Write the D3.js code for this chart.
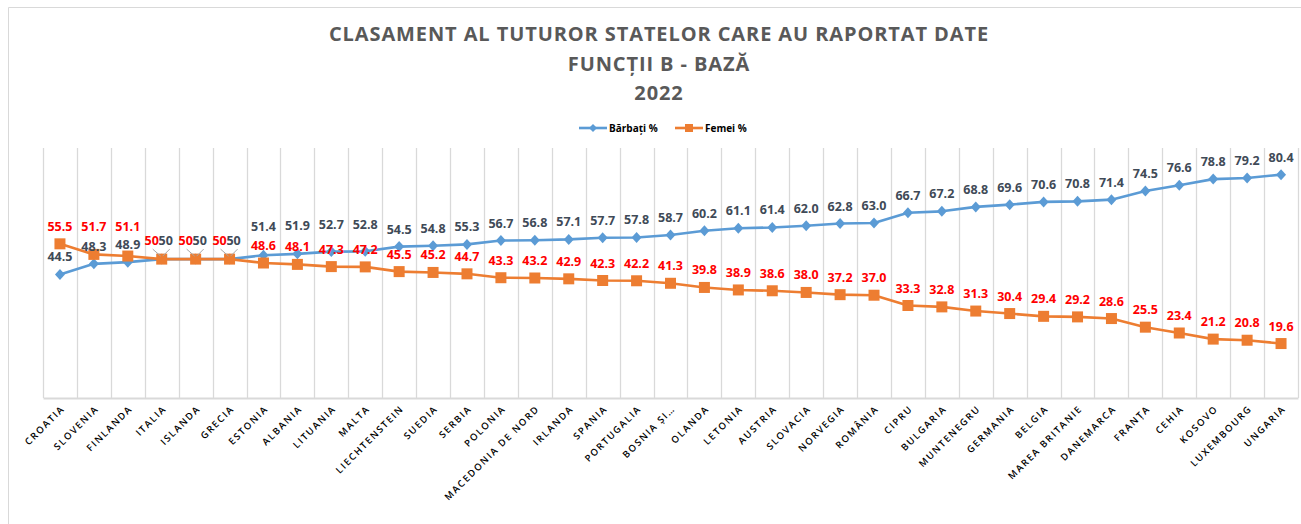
<!DOCTYPE html>
<html>
<head>
<meta charset="utf-8">
<script src="https://cdn.jsdelivr.net/npm/d3@7"></script>
<style>
    body { margin: 0; background: #fff; }
    svg { display: block; font-family: "Open Sans", "DejaVu Sans", sans-serif; }
</style>
</head>
<body>
<svg id="chart" width="1301" height="524"></svg>
<script>
// Chart data
const countries = ["CROATIA", "SLOVENIA", "FINLANDA", "ITALIA", "ISLANDA", "GRECIA", "ESTONIA",
    "ALBANIA", "LITUANIA", "MALTA", "LIECHTENSTEIN", "SUEDIA", "SERBIA", "POLONIA",
    "MACEDONIA DE NORD", "IRLANDA", "SPANIA", "PORTUGALIA", "BOSNIA ȘI…", "OLANDA", "LETONIA",
    "AUSTRIA", "SLOVACIA", "NORVEGIA", "ROMÂNIA", "CIPRU", "BULGARIA", "MUNTENEGRU",
    "GERMANIA", "BELGIA", "MAREA BRITANIE", "DANEMARCA", "FRANȚA", "CEHIA", "KOSOVO",
    "LUXEMBOURG", "UNGARIA"];

const barbati = [44.5, 48.3, 48.9, 50, 50, 50, 51.4, 51.9, 52.7, 52.8, 54.5, 54.8, 55.3, 56.7,
    56.8, 57.1, 57.7, 57.8, 58.7, 60.2, 61.1, 61.4, 62.0, 62.8, 63.0, 66.7, 67.2, 68.8,
    69.6, 70.6, 70.8, 71.4, 74.5, 76.6, 78.8, 79.2, 80.4];

const femei = [55.5, 51.7, 51.1, 50, 50, 50, 48.6, 48.1, 47.3, 47.2, 45.5, 45.2, 44.7, 43.3,
    43.2, 42.9, 42.3, 42.2, 41.3, 39.8, 38.9, 38.6, 38.0, 37.2, 37.0, 33.3, 32.8, 31.3,
    30.4, 29.4, 29.2, 28.6, 25.5, 23.4, 21.2, 20.8, 19.6];

const titleLines = ["CLASAMENT AL TUTUROR STATELOR CARE AU RAPORTAT DATE", "FUNCȚII B - BAZĂ", "2022"];
const seriesNames = ["Bărbați %", "Femei %"];

const svg = d3.select("#chart");
const W = 1301, H = 524;
const plot = {left: 43, right: 1298, top: 148, bottom: 398};

const blue = "#5b9bd5", orange = "#ed7d31";
const grid = "#d9d9d9";

// Frame of the chart area
svg.append("path")
    .attr("d", `M8.5,${H}V7.5H${W}`)
    .attr("fill", "none")
    .attr("stroke", grid)
    .attr("stroke-width", 1);

// Title
svg.append("g").selectAll("text")
    .data(titleLines)
    .enter()
    .append("text")
    .attr("x", 659)
    .attr("y", (d, i) => 41 + i * 29.5)
    .attr("text-anchor", "middle")
    .attr("fill", "#595959")
    .attr("font-size", 20)
    .attr("font-weight", 700)
    .attr("letter-spacing", 0.9)
    .text(d => d);

// Scales
const x = d3.scaleBand()
    .domain(countries)
    .range([plot.left, plot.right])
    .padding(0);

const y = d3.scaleLinear()
    .domain([0, 90])
    .range([plot.bottom, plot.top]);

const cx = d => x(d) + x.bandwidth() / 2;

// Vertical gridlines at category boundaries
svg.append("g").selectAll("line")
    .data(countries.concat([null]))
    .enter()
    .append("line")
    .attr("x1", (d, i) => Math.round(plot.left + i * x.bandwidth()) + 0.5)
    .attr("x2", (d, i) => Math.round(plot.left + i * x.bandwidth()) + 0.5)
    .attr("y1", plot.top)
    .attr("y2", plot.bottom)
    .attr("stroke", grid)
    .attr("stroke-width", 1.3);

// X axis
const xAxis = svg.append("g")
    .attr("transform", `translate(0,${plot.bottom})`)
    .call(d3.axisBottom(x).tickSize(0).tickPadding(0));

xAxis.select(".domain")
    .attr("stroke", grid)
    .attr("stroke-width", 2);

xAxis.selectAll(".tick text")
    .attr("transform", "translate(3,9) rotate(-45)")
    .attr("text-anchor", "end")
    .attr("dy", "0.35em")
    .attr("font-family", "'Open Sans', sans-serif")
    .attr("font-size", 9.5)
    .attr("font-weight", 600)
    .attr("letter-spacing", 1.6)
    .attr("fill", "#000");

// Lines
const line = d3.line()
    .x((d, i) => cx(countries[i]))
    .y(d => y(d));

const series = [
    {name: seriesNames[0], values: barbati, color: blue, labelColor: "#404a57"},
    {name: seriesNames[1], values: femei, color: orange, labelColor: "#ff0000"}
];

series.forEach(s => {
    svg.append("path")
        .datum(s.values)
        .attr("fill", "none")
        .attr("stroke", s.color)
        .attr("stroke-width", 2.6)
        .attr("stroke-linejoin", "round")
        .attr("d", line);
});

// Markers
svg.append("g").selectAll("path")
    .data(barbati)
    .enter()
    .append("path")
    .attr("transform", (d, i) => `translate(${cx(countries[i])},${y(d)})`)
    .attr("d", "M0,-5.5L5,0L0,5.5L-5,0Z")
    .attr("fill", blue);

svg.append("g").selectAll("rect")
    .data(femei)
    .enter()
    .append("rect")
    .attr("x", (d, i) => cx(countries[i]) - 5.5)
    .attr("y", d => y(d) - 5.5)
    .attr("width", 11)
    .attr("height", 11)
    .attr("fill", orange);

// Data labels
const tie = i => barbati[i] === femei[i];
const fmt = (v, i) => tie(i) ? String(v) : v.toFixed(1);

const leaders = svg.append("g");
countries.forEach((c, i) => {
    if (!tie(i)) return;
    const px = cx(c), py = y(barbati[i]);
    leaders.append("path")
        .attr("d", `M${px - 9},${py - 10}L${px - 1},${py - 3}M${px + 8},${py - 10}L${px + 1},${py - 3}`)
        .attr("stroke", "#a6a6a6")
        .attr("stroke-width", 1)
        .attr("fill", "none");
});

series.forEach((s, si) => {
    svg.append("g").selectAll("text")
        .data(s.values)
        .enter()
        .append("text")
        .attr("x", (d, i) => cx(countries[i]) + (tie(i) ? (si === 0 ? 4 : -10) : 0))
        .attr("y", (d, i) => {
            if (tie(i)) return y(d) - 14;
            // the upper label of two close points is lifted so they do not collide
            const other = si === 0 ? femei[i] : barbati[i];
            if (Math.abs(d - other) < 7 && d > other) return y(d) - 21 - (7 - Math.abs(d - other)) * 0.8;
            return y(d) - 13;
        })
        .attr("text-anchor", "middle")
        .attr("fill", s.labelColor)
        .attr("font-size", 12.5)
        .attr("font-weight", 700)
        .text((d, i) => fmt(d, i));
});

// Legend
const legend = svg.append("g").attr("transform", "translate(579,128)");
const legendItems = [
    {name: seriesNames[0], color: blue, marker: "diamond", dx: 0},
    {name: seriesNames[1], color: orange, marker: "square", dx: 96}
];
legendItems.forEach(l => {
    const g = legend.append("g").attr("transform", `translate(${l.dx},0)`);
    g.append("line")
        .attr("x1", 0).attr("x2", 28)
        .attr("y1", 0).attr("y2", 0)
        .attr("stroke", l.color)
        .attr("stroke-width", 2.6);
    if (l.marker === "diamond") {
        g.append("path").attr("d", "M14,-4L18,0L14,4L10,0Z").attr("fill", l.color);
    } else {
        g.append("rect").attr("x", 10).attr("y", -4).attr("width", 8).attr("height", 8).attr("fill", l.color);
    }
    g.append("text")
        .attr("x", 30)
        .attr("y", 0)
        .attr("dy", "0.35em")
        .attr("font-size", 10)
        .attr("font-weight", 700)
        .attr("fill", "#000")
        .text(l.name);
});
</script>
</body>
</html>
